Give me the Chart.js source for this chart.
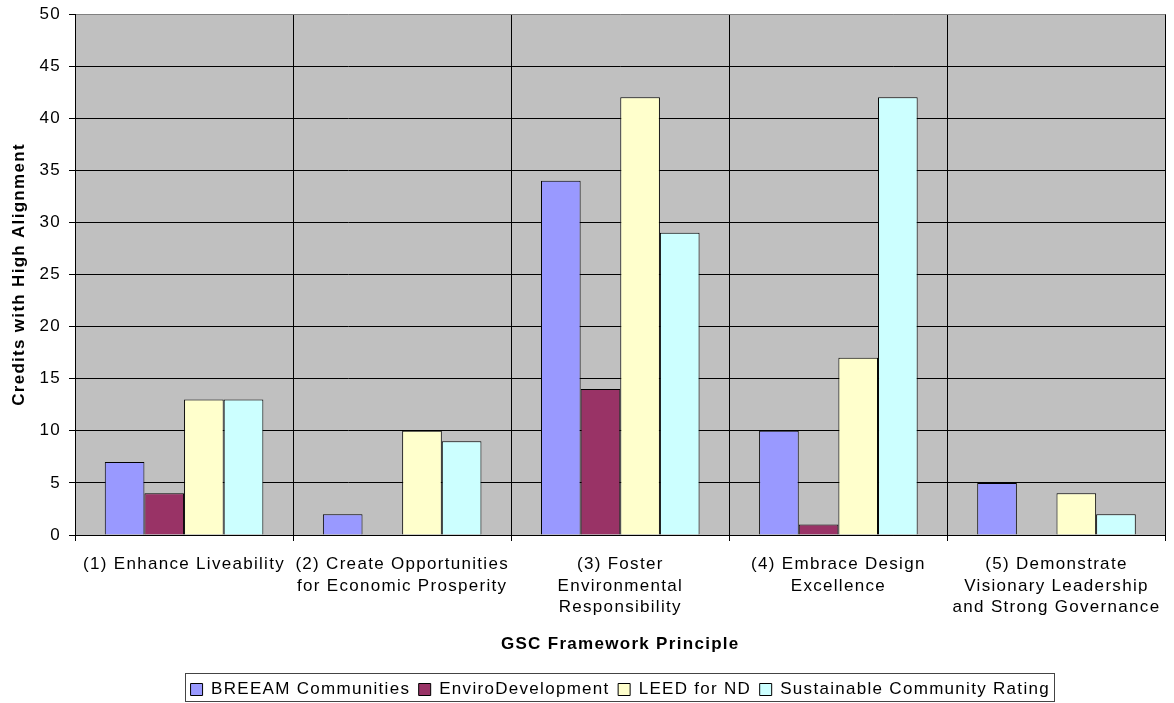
<!DOCTYPE html>
<html><head><meta charset="utf-8">
<script src="https://cdn.jsdelivr.net/npm/chart.js@4.4.0/dist/chart.umd.min.js"></script>
<style>html,body{margin:0;padding:0;background:#fff}canvas{display:block}</style>
</head><body>
<canvas id="c" width="1174" height="703" style="width:1174px;height:703px"></canvas>
<script>
// ---- data ----
const categories = [
  ["(1) Enhance Liveability"],
  ["(2) Create Opportunities", "for Economic Prosperity"],
  ["(3) Foster", "Environmental", "Responsibility"],
  ["(4) Embrace Design", "Excellence"],
  ["(5) Demonstrate", "Visionary Leadership", "and Strong Governance"]
];
const seriesNames = ["BREEAM Communities", "EnviroDevelopment", "LEED for ND", "Sustainable Community Rating"];
const breeam = [7, 2, 34, 10, 5];
const enviro = [4, 0, 14, 1, 0];
const leed = [13, 10, 42, 17, 4];
const scr = [13, 9, 29, 42, 2];
const yTickValues = [0, 5, 10, 15, 20, 25, 30, 35, 40, 45, 50];
const xTitle = "GSC Framework Principle";
const yTitle = "Credits with High Alignment";

// ---- styles ----
const seriesColors = ["#9999FF", "#993366", "#FFFFCC", "#CCFFFF"];
const FONT = "'Liberation Sans', Arial, sans-serif";
const LS = '1.3px';

const spacing = {
  id: 'spacing',
  beforeUpdate(c) { c.ctx.letterSpacing = LS; },
  beforeLayout(c) { c.ctx.letterSpacing = LS; },
  beforeDraw(c) { c.ctx.letterSpacing = LS; }
};
const plotBg = {
  id: 'plotBg',
  beforeDraw(c) {
    const { ctx, chartArea: a } = c;
    ctx.save();
    ctx.fillStyle = '#C0C0C0';
    ctx.fillRect(a.left, a.top, a.right - a.left, a.bottom - a.top);
    ctx.restore();
  }
};
const legendBorder = {
  id: 'legendBorder',
  afterDraw(c) {
    const L = c.legend;
    if (!L || !L.legendHitBoxes || !L.legendHitBoxes.length) return;
    const hb = L.legendHitBoxes;
    const last = hb[hb.length - 1];
    const left = Math.round(hb[0].left - 6) + 0.5;
    const right = Math.round(last.left + last.width + 4) + 0.5;
    const top = Math.round(hb[0].top - 8) + 0.5;
    const bottom = c.height - 1.5;
    const ctx = c.ctx;
    ctx.save();
    ctx.strokeStyle = '#444';
    ctx.lineWidth = 1;
    ctx.strokeRect(left, top, right - left, bottom - top);
    ctx.restore();
  }
};

const datasets = seriesNames.map((name, i) => ({
  label: name,
  data: [breeam, enviro, leed, scr][i],
  backgroundColor: seriesColors[i],
  borderColor: '#000',
  borderWidth: 1,
  categoryPercentage: 0.727,
  barPercentage: 1.0
}));

new Chart(document.getElementById('c'), {
  type: 'bar',
  data: { labels: categories, datasets },
  plugins: [spacing, plotBg, legendBorder],
  options: {
    responsive: false,
    animation: false,
    devicePixelRatio: 1,
    layout: { padding: { top: 14, right: 6, left: 0, bottom: -5 } },
    plugins: {
      tooltip: { enabled: false },
      legend: {
        position: 'bottom',
        fullSize: false,
        labels: {
          font: { family: FONT, size: 17 },
          color: '#000',
          boxWidth: 12,
          boxHeight: 12,
          padding: 8.5
        }
      }
    },
    scales: {
      x: {
        afterFit(s) { s.height = 137.5; },
        grid: {
          color: (ctx) => ctx.index === categories.length ? '#808080' : '#000',
          tickColor: '#000',
          lineWidth: 1,
          tickLength: 6,
          offset: true
        },
        border: { color: '#000', width: 1 },
        ticks: {
          font: { family: FONT, size: 17, lineHeight: 1.26 },
          color: '#000',
          padding: 13,
          maxRotation: 0,
          autoSkip: false
        },
        title: {
          display: true,
          text: xTitle,
          color: '#000',
          font: { family: FONT, size: 17, weight: 'bold', lineHeight: 1.2 },
          padding: { top: 0, bottom: 18 }
        }
      },
      y: {
        min: 0,
        max: 50,
        afterFit(s) { s.width = 75; s.paddingTop = 0; s.paddingBottom = 0; },
        afterBuildTicks(s) { s.ticks = yTickValues.map(v => ({ value: v })); },
        grid: {
          color: (ctx) => (ctx.tick && ctx.tick.value === 50) ? '#808080' : '#000',
          tickColor: '#000',
          lineWidth: 1,
          tickLength: 6
        },
        border: { color: '#000', width: 1 },
        ticks: {
          font: { family: FONT, size: 17 },
          color: '#000',
          padding: 8
        },
        title: {
          display: true,
          text: yTitle,
          color: '#000',
          font: { family: FONT, size: 17, weight: 'bold', lineHeight: 1.2 },
          padding: { top: 9, bottom: 0 }
        }
      }
    }
  }
});
</script>
</body></html>
